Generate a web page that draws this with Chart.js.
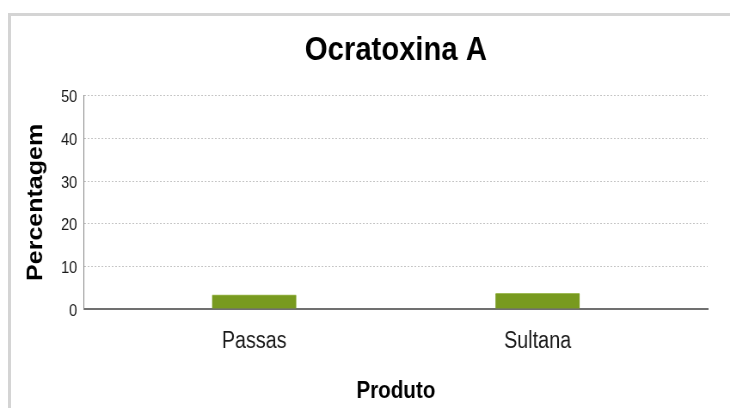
<!DOCTYPE html>
<html><head><meta charset="utf-8">
<script src="https://cdn.jsdelivr.net/npm/chart.js@4"></script>
<style>
html,body{margin:0;padding:0;background:#fff;overflow:hidden;}
#wrap{position:relative;width:730px;height:408px;overflow:hidden;}
#frame{position:absolute;left:8px;top:13px;width:740px;height:420px;border-top:3px solid #d4d4d4;border-left:3px solid #d4d4d4;box-sizing:border-box;pointer-events:none;}
canvas{position:absolute;left:0;top:0;}
</style></head><body>
<div id="wrap"><canvas id="c" width="849" height="408" style="width:730px;height:408px"></canvas><div id="frame"></div></div>
<script>
const categories = ['Passas', 'Sultana'];
const percentages = [3.3, 3.7];
const yTickStep = 10;
const yMin = 0;
const yMax = 50;
const chartTitle = 'Ocratoxina A';
const xTitle = 'Produto';
const yTitle = 'Percentagem';

const FONT = "'Liberation Sans', Arial, sans-serif";

new Chart(document.getElementById('c'), {
  type: 'bar',
  data: {
    datasets: [{
      data: categories.map((c, i) => ({x: i, y: percentages[i]})),
      backgroundColor: '#789a1f',
      borderColor: '#9fbb55',
      borderWidth: {top: 1, left: 0, right: 0, bottom: 0},
      borderSkipped: false,
      barThickness: 98
    }]
  },
  options: {
    responsive: false,
    animation: false,
    layout: {padding: {left: 23.5, right: 26, top: 0, bottom: 0}},
    plugins: {
      legend: {display: false},
      tooltip: {enabled: false},
      title: {
        display: true,
        text: chartTitle,
        fullSize: false,
        color: '#000',
        font: {family: FONT, size: 34, weight: 'bold'},
        padding: {top: 30, bottom: 25}
      }
    },
    scales: {
      x: {
        type: 'linear',
        offset: false,
        min: -0.6,
        max: 1.6,
        bounds: 'data',
        afterBuildTicks: s => { s.ticks = categories.map((_, i) => ({value: i})); },
        grid: {display: false, drawTicks: false, tickLength: 0, offset: false},
        border: {display: true, color: '#707070', width: 2},
        ticks: {
          autoSkip: false,
          callback: v => categories[v],
          color: '#1a1a1a',
          padding: 19.2,
          font: {family: FONT, size: 23}
        },
        title: {
          display: true,
          text: xTitle,
          color: '#000',
          font: {family: FONT, size: 24, weight: 'bold'},
          padding: {top: 2.3, bottom: 1.9}
        }
      },
      y: {
        min: yMin,
        max: yMax,
        grid: {color: '#c4c4c4', lineWidth: 1, drawTicks: false, tickLength: 0},
        border: {display: true, color: '#808080', width: 1, dash: [2, 2]},
        ticks: {
          stepSize: yTickStep,
          color: '#1a1a1a',
          padding: 8,
          labelOffset: 2,
          font: {family: FONT, size: 17}
        },
        title: {
          display: true,
          text: yTitle,
          color: '#000',
          font: {family: FONT, size: 25, weight: 'bold'},
          padding: {top: 4, bottom: 5.4}
        }
      }
    }
  }
});
</script>
</body></html>
